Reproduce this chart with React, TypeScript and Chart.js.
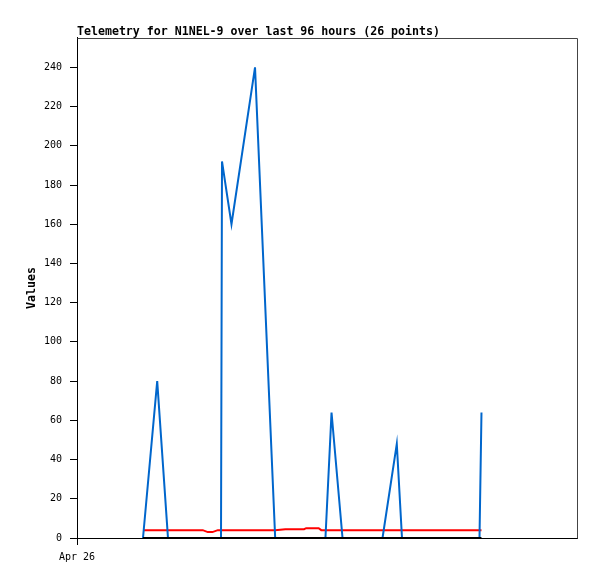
import React, { useEffect, useRef } from "react";
import { Chart, registerables } from "chart.js";

Chart.register(...registerables);

// Sample times (hours since the axis start, Apr 26 00:00)
const sampleHours = [
  12.67, 15.4, 17.47, 24.15, 25.1, 26.0, 27.03, 27.65, 27.84, 29.66, 34.18, 38.05, 40.0,
  43.6, 44.0, 46.4, 46.9, 47.7, 48.87, 50.98, 58.66, 61.4, 62.4, 70.0, 77.28, 77.66,
];
const seriesBlue = [
  0, 80, 0, 0, 0, 0, 0, 0, 192, 160, 240, 0, 0, 0, 0, 0, 0, 0, 64, 0, 0, 48, 0, 0, 0, 64,
];
const seriesRed = [
  4, 4, 4, 4, 3, 3, 4, 4, 4, 4, 4, 4, 4.5, 4.5, 5, 5, 4, 4, 4, 4, 4, 4, 4, 4, 4, 4,
];
const seriesBlack = [
  0, 0, 0, 0, 0, 0, 0, 0, 0, 0, 0, 0, 0, 0, 0, 0, 0, 0, 0, 0, 0, 0, 0, 0, 0, 0,
];
const xTickHours = [0];
const xTickLabels = ["Apr 26"];
const yTickValues = [0, 20, 40, 60, 80, 100, 120, 140, 160, 180, 200, 220, 240];

const MONO = "'DejaVu Sans Mono', 'Liberation Mono', monospace";

const framePlugin = {
  id: "frame",
  afterDatasetsDraw(chart: any) {
    const { ctx, chartArea } = chart;
    ctx.save();
    ctx.strokeStyle = "#444444";
    ctx.lineWidth = 1;
    ctx.beginPath();
    ctx.moveTo(Math.round(chartArea.left) + 0.5, Math.round(chartArea.top) + 0.5);
    ctx.lineTo(Math.round(chartArea.right) + 0.5, Math.round(chartArea.top) + 0.5);
    ctx.lineTo(Math.round(chartArea.right) + 0.5, Math.round(chartArea.bottom) + 0.5);
    ctx.stroke();
    ctx.restore();
  },
};

export default function App() {
  const canvasRef = useRef<HTMLCanvasElement | null>(null);

  useEffect(() => {
    document.body.style.margin = "0";
    const canvas = canvasRef.current;
    if (!canvas) return;
    const toXY = (vals: number[]) => vals.map((v, i) => ({ x: sampleHours[i], y: v }));
    const chart = new Chart(canvas, {
      type: "line",
      data: {
        datasets: [
          {
            label: "Channel 3",
            data: toXY(seriesBlack),
            borderColor: "#000000",
            borderWidth: 2,
            pointRadius: 0,
            tension: 0,
            order: 0,
          },
          {
            label: "Channel 1",
            data: toXY(seriesBlue),
            borderColor: "#0066cc",
            borderWidth: 2,
            pointRadius: 0,
            tension: 0,
            order: 1,
          },
          {
            label: "Channel 2",
            data: toXY(seriesRed),
            borderColor: "#ff0000",
            borderWidth: 2,
            pointRadius: 0,
            tension: 0,
            order: 2,
          },
        ],
      },
      options: {
        animation: false,
        responsive: false,
        maintainAspectRatio: false,
        layout: { padding: { left: 0, right: 20, top: 0, bottom: 0 } },
        plugins: {
          legend: { display: false },
          tooltip: { enabled: false },
          title: {
            display: true,
            text: "Telemetry for N1NEL-9 over last 96 hours (26 points)",
            align: "start",
            fullSize: false,
            color: "#000000",
            font: { family: MONO, size: 11.6, weight: "bold" },
            padding: { top: 25, bottom: -1 },
          },
        },
        scales: {
          x: {
            type: "linear",
            min: 0,
            max: 96,
            afterFit(scale: any) {
              scale.height = 41;
            },
            afterBuildTicks(scale: any) {
              scale.ticks = xTickHours.map((v) => ({ value: v }));
            },
            ticks: {
              color: "#000000",
              font: { family: MONO, size: 10 },
              padding: 6,
              maxRotation: 0,
              autoSkip: false,
              callback: (_v: any, i: number) => xTickLabels[i],
            },
            grid: {
              display: true,
              drawOnChartArea: false,
              drawTicks: true,
              tickLength: 7,
              color: "#000000",
            },
            border: { display: true, color: "#000000", width: 1 },
          },
          y: {
            type: "linear",
            min: 0,
            max: 255,
            afterFit(scale: any) {
              scale.width = 77;
            },
            afterBuildTicks(scale: any) {
              scale.ticks = yTickValues.map((v) => ({ value: v }));
            },
            ticks: {
              color: "#000000",
              font: { family: MONO, size: 10 },
              padding: 8,
              includeBounds: false,
              autoSkip: false,
            },
            grid: {
              display: true,
              drawOnChartArea: false,
              drawTicks: true,
              tickLength: 7,
              color: "#000000",
            },
            border: { display: true, color: "#000000", width: 1 },
            title: {
              display: true,
              text: "Values",
              color: "#000000",
              font: { family: MONO, size: 11.6, weight: "bold" },
              padding: { top: 25, bottom: 0 },
            },
          },
        },
      },
      plugins: [framePlugin],
    } as any);
    return () => chart.destroy();
  }, []);

  return (
    <div style={{ width: 597, height: 579, background: "#ffffff" }}>
      <canvas ref={canvasRef} width={597} height={579} style={{ display: "block" }} />
    </div>
  );
}
